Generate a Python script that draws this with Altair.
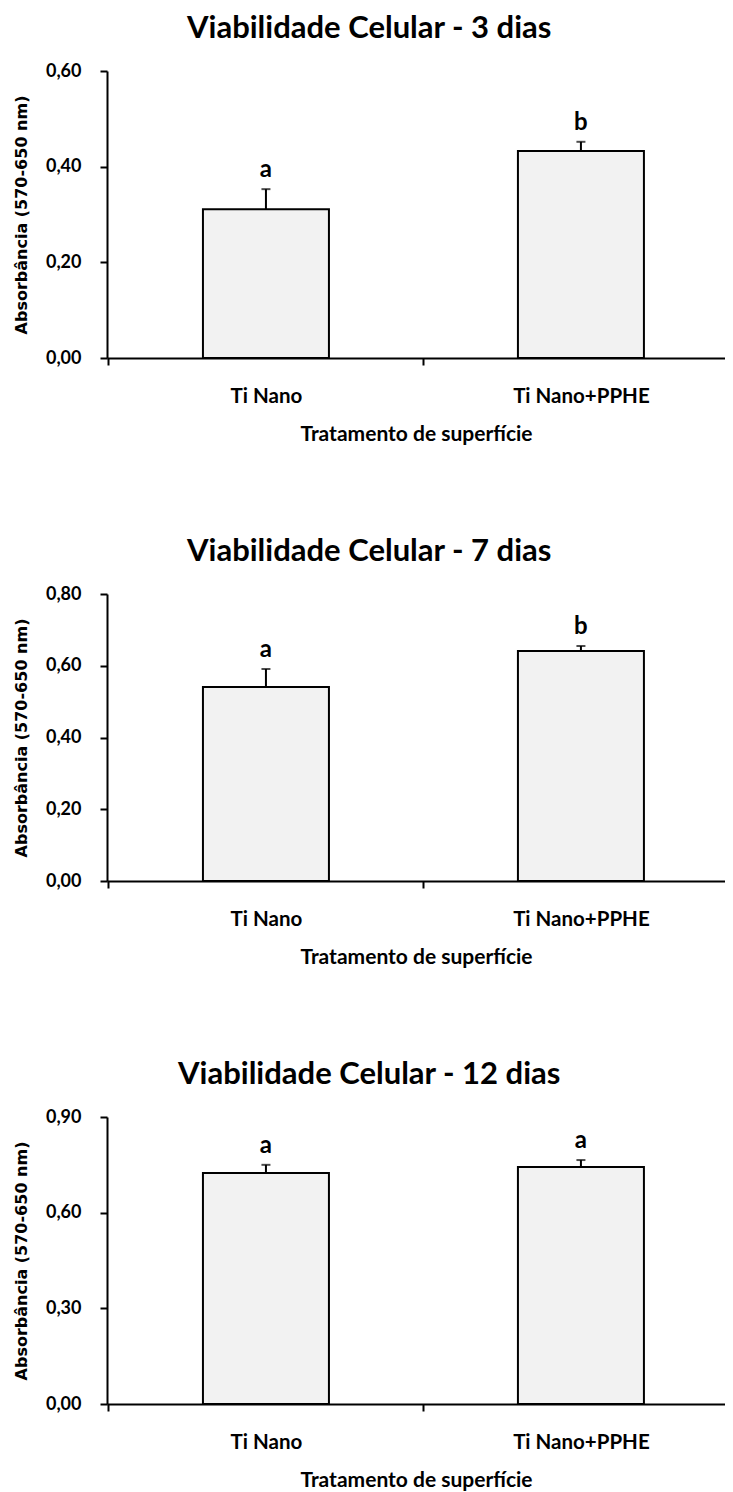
import altair as alt
import pandas as pd

categories = ["Ti Nano", "Ti Nano+PPHE"]
panel_titles = ["Viabilidade Celular - 3 dias",
                "Viabilidade Celular - 7 dias",
                "Viabilidade Celular - 12 dias"]
means_3d = [0.311, 0.433]
errs_3d = [0.353, 0.452]
letters_3d = ["a", "b"]
means_7d = [0.541, 0.641]
errs_7d = [0.591, 0.655]
letters_7d = ["a", "b"]
means_12d = [0.724, 0.743]
errs_12d = [0.750, 0.765]
letters_12d = ["a", "a"]
y_max = [0.6, 0.8, 0.9]
y_ticks = [[0.0, 0.2, 0.4, 0.6],
           [0.0, 0.2, 0.4, 0.6, 0.8],
           [0.0, 0.3, 0.6, 0.9]]
x_title = "Tratamento de superfície"
y_title = "Absorbância (570-650 nm)"

W = 618
H = 287
STEP = 315


def panel(title, means, errs, letters, ymax, ticks):
    df = pd.DataFrame({"cat": categories, "mean": means, "err": errs,
                       "letter": letters})
    x = alt.X("cat:N", sort=categories, title=x_title,
              scale=alt.Scale(paddingInner=0.6, paddingOuter=0.281, align=0.542),
              axis=alt.Axis(labelAngle=0, tickOffset=-STEP / 2, labelOffset=STEP / 2,
                            labelPadding=21, titlePadding=17, labelFontSize=20.5,
                            titleFont="Lato", titleFontSize=21, titleFontWeight="bold"))
    yscale = alt.Scale(domain=[0, ymax], nice=False, zero=True)
    yaxis = alt.Axis(values=ticks,
                     labelExpr="replace(format(datum.value, '.2f'), '.', ',')",
                     labelPadding=19, titlePadding=16,
                     titleFont="DejaVu Sans", titleFontSize=16, titleFontWeight="bold")
    base = alt.Chart(df).encode(x=x)
    bars = base.mark_bar(fill="#f2f2f2", stroke="black", strokeWidth=2).encode(
        y=alt.Y("mean:Q", scale=yscale, axis=yaxis, title=y_title))
    rule = base.mark_rule(color="black", strokeWidth=2).encode(
        y=alt.Y("mean:Q", title=y_title), y2="err:Q")
    cap = base.mark_tick(color="black", thickness=2, size=9).encode(
        y=alt.Y("err:Q", title=y_title))
    text = base.mark_text(dy=-12, baseline="alphabetic", font="Lato",
                          fontWeight="bold", fontSize=24, color="black").encode(
        y=alt.Y("err:Q", title=y_title), text="letter:N")
    return alt.layer(bars, rule, cap, text).properties(
        width=W, height=H, title=alt.TitleParams(title))


p1 = panel(panel_titles[0], means_3d, errs_3d, letters_3d, y_max[0], y_ticks[0])
p2 = panel(panel_titles[1], means_7d, errs_7d, letters_7d, y_max[1], y_ticks[1])
p3 = panel(panel_titles[2], means_12d, errs_12d, letters_12d, y_max[2], y_ticks[2])

chart = alt.vconcat(p1, p2, p3, spacing=91).properties(
    padding={"left": 5, "right": 0, "top": 5, "bottom": 0}
).configure_view(stroke=None).configure_axis(
    domainColor="black", domainWidth=2, tickColor="black", tickWidth=2, tickSize=7,
    labelFont="Lato", labelFontWeight="bold", labelFontSize=18, labelColor="black",
    titleColor="black", grid=False
).configure_title(
    font="Lato", fontSize=31, fontWeight="bold", color="black",
    anchor="middle", frame="bounds", offset=17
)

chart.save("out.html", embed_options={"renderer": "svg", "actions": False})
